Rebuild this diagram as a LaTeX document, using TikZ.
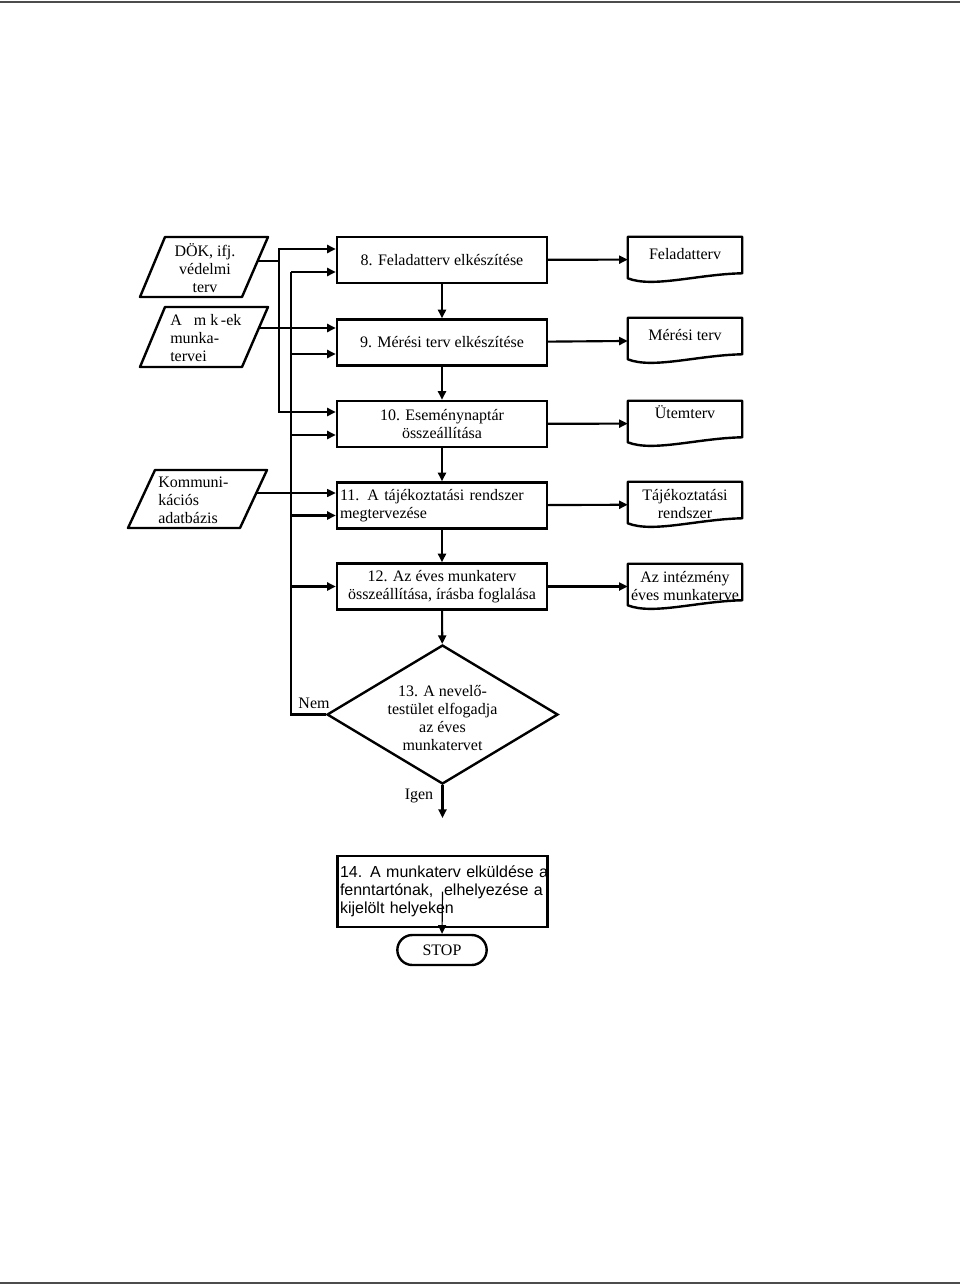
\documentclass[tikz,border=0pt]{standalone}
\usepackage{fontspec}
\setmainfont{Liberation Serif}
\setsansfont{Liberation Sans}
\usetikzlibrary{calc,shapes.geometric,shapes.misc,arrows.meta,positioning}

\tikzset{
  >={Triangle[length=6.5pt,width=6pt]},
  conn/.style={line width=1.6pt},
  thinconn/.style={line width=0.9pt},
  proc/.style={draw, line width=1.8pt, rectangle, minimum width=157.5pt, minimum height=34.5pt, align=center, inner sep=1pt},
  doc/.style={minimum width=85.5pt, minimum height=33.75pt, align=center, inner sep=1pt},
  docline/.style={line width=1.8pt, line join=round},
  para/.style={line width=1.8pt, line join=round},
  decision/.style={diamond, draw, line width=1.8pt, minimum width=173.25pt, minimum height=104.25pt, inner sep=0pt},
  term/.style={rounded rectangle, draw, line width=1.8pt, minimum width=69pt, minimum height=22.5pt, inner sep=1pt},
  plain/.style={inner sep=0pt},
  pagerule/.style={line width=1.5pt, color=black!70}
}

\begin{document}
\begin{tikzpicture}[x=0.75pt,y=0.75pt,yscale=-1,xscale=1,font=\fontsize{12}{13.5}\selectfont]
\useasboundingbox (0,0) rectangle (960,1285);

%Shape: page rules
\draw[pagerule] (0,1.5) -- (960,1.5);
\draw[pagerule] (0,1283) -- (960,1283);

%Shape: Parallelogram [DÖK]
\draw[para] (165,237) -- (268,237) -- (242,297) -- (140,297) -- cycle;
%Shape: Parallelogram [mk-ek]
\draw[para] (165,307) -- (268,307) -- (242,367) -- (140,367) -- cycle;
%Shape: Parallelogram [Kommunikációs]
\draw[para] (155,470) -- (267,470) -- (240,528) -- (128,528) -- cycle;

% Text Node
\node[plain, align=center] (dok) at (205,268) {DÖK, ifj.\\védelmi\\terv};
% Text Node
\node[plain, align=left, anchor=west] (mk) at (170,338) {A\ \ \ m k\,-ek\\munka-\\tervei};
% Text Node
\node[plain, align=left, anchor=west] (kom) at (158,500) {Kommuni-\\kációs\\adatbázis};

\coordinate (dokR) at (258,261);
\coordinate (mkR) at (259,328);
\coordinate (komR) at (256,493);

% Process boxes
\node[proc] (b8) at (442,260) {8. Feladatterv elkészítése};
\node[proc] (b9) at (442,342.5) {9. Mérési terv elkészítése};
\node[proc] (b10) at (442,424) {10. Eseménynaptár\\összeállítása};
\node[proc, align=left, text width=153pt] (b11) at (442,505.5) {\makebox[\linewidth][s]{11. A tájékoztatási rendszer}\\megtervezése};
\node[proc] (b12) at (442,586.5) {12. Az éves munkaterv\\összeállítása, írásba foglalása};

% Documents
\node[doc, text depth=8pt] (fel) at (685,259.5) {Feladatterv};
\node[doc, text depth=8pt] (mer) at (685,340.5) {Mérési terv};
\node[doc, text depth=17pt] (utem) at (685,423.5) {Ütemterv};
\node[doc] (tajr) at (685,504.5) {Tájékoztatási\\rendszer};
\node[doc] (intm) at (685,586.5) {Az intézmény\\éves munkaterve};

\foreach \d in {fel,mer,utem,tajr,intm}
  \draw[docline] ($(\d.south west)+(0,-4)$) -- (\d.north west) -- (\d.north east) -- ($(\d.south east)+(0,-9)$)
    .. controls ($(\d.south east)+(-45,-8)$) and ($(\d.south west)+(25,6)$) .. ($(\d.south west)+(0,-4)$) -- cycle;

% Decision
\node[decision] (d13) at (442.5,714.5) {};
% Text Node
\node[plain, align=center] (d13txt) at (442.5,718) {13. A nevelő-\\testület elfogadja\\az éves\\munkatervet};
% Text Node
\node[plain] (nem) at (314,703) {Nem};
% Text Node
\node[plain] (igen) at (419,796) {Igen};
\coordinate (igenEnd) at (442.5,818);

% Last box and stop
\node[proc, minimum height=53.25pt, text width=153.75pt, align=left, font=\fontsize{12}{13.5}\sffamily\selectfont] (b14) at (442.5,891.5)
  {\makebox[\linewidth][s]{14. A munkaterv elküldése a}\\\makebox[\linewidth][s]{fenntartónak,\ \ elhelyezése a}\\kijelölt helyeken};
\node[term] (stop) at (442,950) {STOP};

% Main flow
\draw[conn,->] (b8) -- (b9);
\draw[conn,->] (b9) -- (b10);
\draw[conn,->] (b10) -- (b11);
\draw[conn,->] (b11) -- (b12);
\draw[conn,->] (b12) -- (d13);
\draw[conn,->] (d13.south) -- (igenEnd);
\draw[thinconn,->] (b14.center) -- (stop.north);

% Outputs
\draw[conn,->] (b8) -- (fel);
\draw[conn,->] (b9) -- (mer);
\draw[conn,->] (b10) -- (utem);
\draw[conn,->] (b11) -- (tajr);
\draw[conn,->] (b12) -- (intm);

% Inputs
\coordinate (busA) at (279,249);
\coordinate (busB) at (291,272);
\draw[conn,->] (dokR) -| (busA) -- (busA -| b8.west);
\draw[conn,->] (busA) |- ($(b10.west)+(0,-12)$);
\draw[conn,->] (mkR) -- (mkR -| b9.west);
\draw[thinconn,->] (komR) -- (komR -| b11.west);
\draw[conn] (busB) |- (d13.west);
\foreach \b/\dy in {b8/12,b9/11.5,b10/11,b11/10,b12/0}{
  \path ($(\b.west)+(0,\dy)$) coordinate (tip);
  \draw[conn,->] (tip -| busB) -- (tip);
}

\end{tikzpicture}
\end{document}
